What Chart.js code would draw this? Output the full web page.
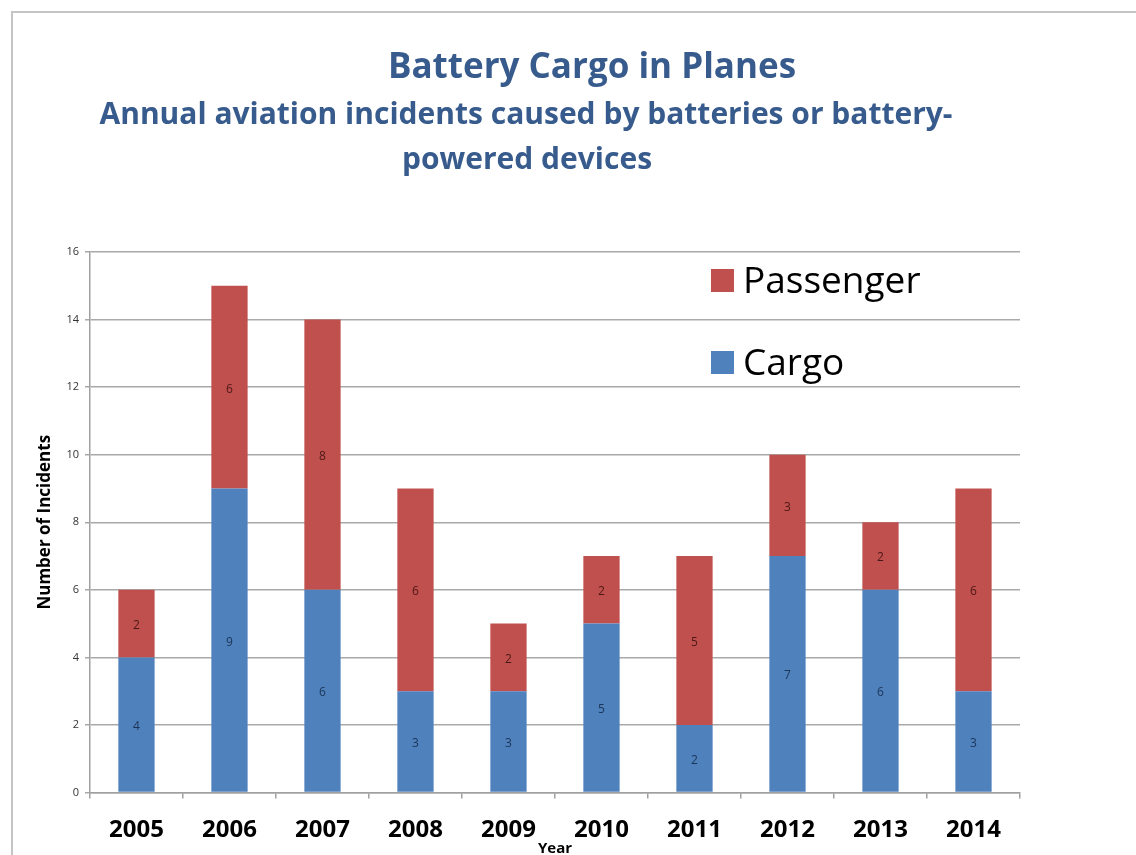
<!DOCTYPE html>
<html>
<head>
<meta charset="utf-8">
<title>Battery Cargo in Planes</title>
<script src="https://cdn.jsdelivr.net/npm/chart.js@4.4.1/dist/chart.umd.min.js"></script>
<style>
    body { margin: 0; background: #fff; }
    #wrap { width: 1136px; height: 855px; position: relative; }
</style>
</head>
<body>
<div id="wrap"><canvas id="chartIncidents" width="1136" height="855"></canvas></div>
<script>
//==========Data===========
const years = ['2005', '2006', '2007', '2008', '2009', '2010', '2011', '2012', '2013', '2014'];
const cargoValues = [4, 9, 6, 3, 3, 5, 2, 7, 6, 3];
const passengerValues = [2, 6, 8, 6, 2, 2, 5, 3, 2, 6];
const yTickMax = 16;
const yTickStep = 2;
const titleText = 'Battery Cargo in Planes';
const subtitleLines = ['Annual aviation incidents caused by batteries or battery-', 'powered devices'];

const FONT = "'Open Sans', Lato, sans-serif";

//==========Plugins===========
// grey frame round the picture (top and left edges only show)
const framePlugin = {
    id: 'frame',
    beforeDraw: function (chart) {
        let ctx = chart.ctx;
        ctx.save();
        ctx.fillStyle = '#fff';
        ctx.fillRect(0, 0, chart.width, chart.height);
        ctx.strokeStyle = '#c4c4c4';
        ctx.lineWidth = 2;
        ctx.beginPath();
        ctx.moveTo(12, chart.height);
        ctx.lineTo(12, 12);
        ctx.lineTo(chart.width, 12);
        ctx.stroke();
        ctx.restore();
    }
};

const headerPlugin = {
    id: 'header',
    afterDraw: function (chart) {
        let ctx = chart.ctx;
        ctx.save();
        ctx.fillStyle = '#375b8c';
        ctx.textAlign = 'center';
        ctx.textBaseline = 'middle';
        ctx.font = 'bold 35px ' + FONT;
        ctx.fillText(titleText, 592, 68);
        ctx.font = 'bold 30px ' + FONT;
        ctx.fillText(subtitleLines[0], 526, 115);
        ctx.fillText(subtitleLines[1], 527, 160);
        ctx.restore();
    }
};

// value in the middle of each stacked segment
const segmentLabelPlugin = {
    id: 'segmentLabels',
    afterDatasetsDraw: function (chart) {
        let ctx = chart.ctx;
        ctx.save();
        ctx.font = '12px ' + FONT;
        ctx.textAlign = 'center';
        ctx.textBaseline = 'middle';
        chart.data.datasets.forEach(function (ds, i) {
            let meta = chart.getDatasetMeta(i);
            ctx.fillStyle = ds.labelColor;
            meta.data.forEach(function (bar, j) {
                let y = (bar.y + bar.base) / 2;
                ctx.fillText(ds.data[j], bar.x, y + 2);
            });
        });
        ctx.restore();
    }
};

// legend drawn inside the plot, Passenger above Cargo
const insideLegendPlugin = {
    id: 'insideLegend',
    afterDraw: function (chart) {
        let ctx = chart.ctx;
        let area = chart.chartArea;
        let x = area.left + 621;
        let y = area.top + 17;
        ctx.save();
        ctx.font = '37px ' + FONT;
        ctx.textBaseline = 'middle';
        let items = chart.data.datasets.slice().reverse();
        items.forEach(function (ds, i) {
            let top = y + i * 82;
            ctx.fillStyle = ds.backgroundColor;
            ctx.fillRect(x, top, 23, 23);
            ctx.fillStyle = '#000';
            ctx.fillText(ds.label, x + 32, top + 13);
        });
        ctx.restore();
    }
};

//==========Chart===========
const ctx = document.getElementById('chartIncidents');
new Chart(ctx, {
    type: 'bar',
    data: {
        labels: years,
        datasets: [
            {
                label: 'Cargo',
                data: cargoValues,
                backgroundColor: '#4f81bd',
                labelColor: '#1c3557',
                borderWidth: 0
            },
            {
                label: 'Passenger',
                data: passengerValues,
                backgroundColor: '#c0504d',
                labelColor: '#4a1816',
                borderWidth: 0
            }
        ]
    },
    options: {
        responsive: false,
        animation: false,
        devicePixelRatio: 1,
        barPercentage: 0.39,
        categoryPercentage: 1,
        layout: {
            padding: { top: 252, right: 116, left: 29, bottom: -1.5 }
        },
        plugins: {
            legend: { display: false },
            tooltip: { enabled: false }
        },
        scales: {
            x: {
                stacked: true,
                grid: {
                    offset: true,
                    drawOnChartArea: false,
                    drawTicks: true,
                    tickLength: 6,
                    color: '#a0a0a0',
                    lineWidth: 1.5
                },
                border: { color: '#a0a0a0', width: 1.5 },
                ticks: {
                    color: '#000',
                    padding: 20,
                    font: { family: FONT, size: 24, weight: 'bold', lineHeight: 1 }
                },
                title: {
                    display: true,
                    text: 'Year',
                    color: '#000',
                    padding: { top: -21, bottom: 0 },
                    font: { family: FONT, size: 15, weight: 'bold', lineHeight: 1 }
                }
            },
            y: {
                stacked: true,
                min: 0,
                max: yTickMax,
                ticks: {
                    stepSize: yTickStep,
                    color: '#333',
                    padding: 6,
                    font: { family: FONT, size: 11 }
                },
                grid: {
                    color: '#a9a9a9',
                    lineWidth: 1.5,
                    tickLength: 5
                },
                border: { color: '#a0a0a0', width: 1.5 },
                title: {
                    display: true,
                    text: 'Number of Incidents',
                    color: '#000',
                    padding: { top: 6, bottom: 5 },
                    font: { family: FONT, size: 17, weight: 'bold' }
                }
            }
        }
    },
    plugins: [framePlugin, segmentLabelPlugin, insideLegendPlugin, headerPlugin]
});
</script>
</body>
</html>
